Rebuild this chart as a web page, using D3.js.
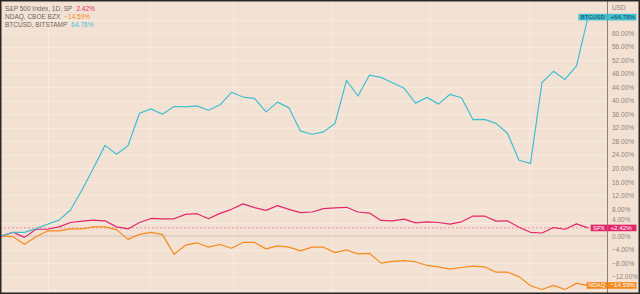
<!DOCTYPE html>
<html>
<head>
<meta charset="utf-8">
<script src="https://cdn.jsdelivr.net/npm/d3@7"></script>
<style>
  body { margin: 0; background: #f3e2d3; }
  svg { display: block; font-family: "Liberation Sans", Arial, sans-serif; }
</style>
</head>
<body>
<svg id="chart" width="640" height="294"></svg>
<script>
// % change since start, one point per session (52 sessions)
const spx = [0, 1.1, -0.4, 2.0, 2.0, 2.7, 4.0, 4.4, 4.7, 4.5, 2.7, 2.1, 4.0, 5.2, 5.1, 5.1, 6.4, 6.6, 5.1, 6.7,
  7.9, 9.5, 8.4, 7.6, 9.0, 7.9, 6.9, 7.1, 8.1, 8.3, 8.5, 7.1, 6.8, 4.6, 4.5, 5.0, 3.9, 4.2, 4.0, 3.5,
  4.2, 5.9, 5.9, 4.4, 4.5, 2.6, 1.1, 0.9, 2.5, 2.0, 3.6, 2.42];
const ndaq = [0, -0.2, -2.4, -0.2, 1.5, 1.5, 2.1, 2.1, 2.7, 2.7, 1.9, -1.0, 0.5, 1.1, 0.4, -5.4, -2.7, -2.0, -3.3, -2.5,
  -3.6, -1.9, -1.9, -3.8, -2.9, -3.3, -4.4, -3.3, -3.3, -4.9, -4.1, -5.3, -5.1, -8.0, -7.5, -7.3, -7.6, -8.7, -9.1, -9.8,
  -9.3, -8.9, -9.1, -10.7, -10.7, -12.0, -14.7, -15.8, -14.6, -15.8, -14.0, -14.59];
const btc = [0, 1.1, 1.1, 2.2, 3.5, 4.7, 7.7, 13.6, 20.1, 26.8, 24.2, 26.7, 36.3, 37.6, 36.0, 38.3, 38.2, 38.5, 37.2, 38.8,
  42.5, 41.1, 40.7, 36.7, 39.6, 37.9, 31.0, 30.1, 30.8, 33.3, 46.0, 41.4, 47.6, 46.9, 45.3, 43.7, 39.3, 41.0, 39.0, 41.9,
  40.9, 34.4, 34.5, 33.3, 30.4, 22.4, 21.5, 45.4, 48.7, 46.3, 50.3, 64.76];

const seriesNames = ["S&P 500 Index, 1D, SP", "NDAQ, CBOE BZX", "BTCUSD, BITSTAMP"];
const seriesTickers = ["SPX", "NDAQ", "BTCUSD"];
const seriesColors = ["#e4266a", "#f5891c", "#3fbfd2"];
const seriesData = [spx, ndaq, btc];
const legendValues = ["2.42%", "\u221214.59%", "64.76%"];
const lastLabels = ["+2.42%", "\u221214.59%", "+64.76%"];
// 64% and -16% sit under the last-value boxes in the original
const yTicks = [60, 56, 52, 48, 44, 40, 36, 32, 28, 24, 20, 16, 12, 8, 4, 0, -4, -8, -12];
const gridTicks = [64, 60, 56, 52, 48, 44, 40, 36, 32, 28, 24, 20, 16, 12, 8, 4, 0, -4, -8, -12, -16];

const W = 640, H = 294;
const axisX = 607;
const svg = d3.select("#chart");

svg.append("rect").attr("width", W).attr("height", H).attr("fill", "#f3e2d3");

const x = d3.scaleLinear().domain([0, spx.length - 1]).range([1.5, 588]);
const y = d3.scaleLinear().domain([-16.55, 69.2]).range([292, 2]);

// faint grid
const grid = svg.append("g");
grid.selectAll("line.h").data(gridTicks).enter().append("line")
  .attr("x1", 0).attr("x2", axisX)
  .attr("y1", d => Math.round(y(d)) + 0.5).attr("y2", d => Math.round(y(d)) + 0.5)
  .attr("stroke", "#f7ebe0").attr("stroke-width", 1);
grid.selectAll("line.v").data([4, 12.9, 20.1, 28.7, 37.3, 45.9]).enter().append("line")
  .attr("y1", 0).attr("y2", H)
  .attr("x1", d => Math.round(x(d)) + 0.5).attr("x2", d => Math.round(x(d)) + 0.5)
  .attr("stroke", "#f7ebe0").attr("stroke-width", 1);

// zero baseline and SPX last-value line
svg.append("line")
  .attr("x1", 0).attr("x2", axisX)
  .attr("y1", y(0)).attr("y2", y(0))
  .attr("stroke", "#c9bdb6").attr("stroke-width", 1);
svg.append("line")
  .attr("x1", 0).attr("x2", axisX)
  .attr("y1", y(2.42)).attr("y2", y(2.42))
  .attr("stroke", "#e4266a").attr("stroke-opacity", 0.45)
  .attr("stroke-dasharray", "2,2").attr("stroke-width", 1);

const line = d3.line().x((d, i) => x(i)).y(d => y(d));

// draw order: NDAQ, SPX, BTC on top
[1, 0, 2].forEach(k => {
  svg.append("path")
    .datum(seriesData[k])
    .attr("d", line)
    .attr("fill", "none")
    .attr("stroke", seriesColors[k])
    .attr("stroke-width", 1.2)
    .attr("stroke-linejoin", "round");
});

// right axis
svg.append("line")
  .attr("x1", axisX + 0.5).attr("x2", axisX + 0.5)
  .attr("y1", 0).attr("y2", H)
  .attr("stroke", "#8a817c").attr("stroke-width", 1);

const yAxis = svg.append("g")
  .attr("transform", `translate(${axisX}, 0)`)
  .call(d3.axisRight(y).tickValues(yTicks).tickSize(0).tickPadding(5)
    .tickFormat(d => (d < 0 ? "\u2212" : "") + Math.abs(d).toFixed(2) + "%"));
yAxis.select(".domain").remove();
yAxis.selectAll("text")
  .attr("fill", "#8d8480")
  .style("font-size", "6.5px");
// 4% label peeks out above the SPX box
yAxis.selectAll(".tick").filter(d => d === 4).select("text").attr("dy", "-0.1em");

svg.append("text")
  .attr("x", axisX + 5).attr("y", 9.5)
  .attr("fill", "#8d8480").style("font-size", "6.5px")
  .text("USD");

// last-value labels
seriesData.forEach((s, k) => {
  const yv = y(s[s.length - 1]);
  const textColor = k === 2 ? "#1d4a52" : "#ffffff";
  const g = svg.append("g");
  const tw = seriesTickers[k].length * 4.1 + 4;
  g.append("rect")
    .attr("x", axisX - tw).attr("y", yv - 3.2)
    .attr("width", tw).attr("height", 6.6)
    .attr("fill", seriesColors[k]);
  g.append("text")
    .attr("x", axisX - tw / 2).attr("y", yv + 2.1)
    .attr("text-anchor", "middle")
    .attr("fill", textColor).style("font-size", "5.8px")
    .text(seriesTickers[k]);
  g.append("rect")
    .attr("x", axisX + 0.5).attr("y", yv - 3.2)
    .attr("width", 29).attr("height", 6.6)
    .attr("fill", seriesColors[k]);
  g.append("text")
    .attr("x", axisX + 3.5).attr("y", yv + 2.1)
    .attr("fill", textColor).style("font-size", "6.2px")
    .text(lastLabels[k]);
});

// legend
seriesNames.forEach((name, k) => {
  const t = svg.append("text")
    .attr("x", 5).attr("y", 10.5 + k * 8)
    .style("font-size", "6.5px");
  t.append("tspan").attr("fill", "#6f6764").text(name);
  t.append("tspan").attr("dx", 4).attr("fill", seriesColors[k]).text(legendValues[k]);
});

// dark frame
svg.append("rect")
  .attr("x", 0.75).attr("y", 0.75)
  .attr("width", W - 1.5).attr("height", H - 1.5)
  .attr("fill", "none").attr("stroke", "#2a2727").attr("stroke-width", 1.5);
</script>
</body>
</html>
